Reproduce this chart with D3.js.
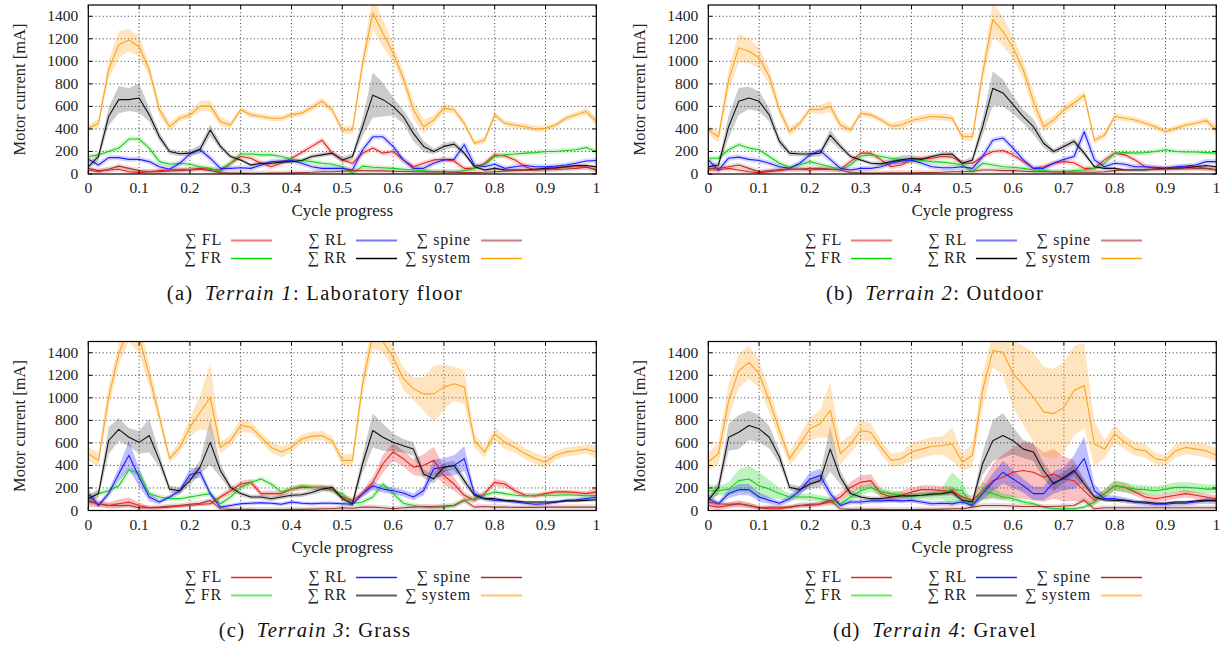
<!DOCTYPE html>
<html>
<head>
<meta charset="utf-8">
<script src="https://cdn.jsdelivr.net/npm/d3@7"></script>
<style>
  body { margin: 0; background: #fff; }
  svg { display: block; font-family: "Liberation Serif", "DejaVu Serif", serif; }
</style>
</head>
<body>
<svg id="chart" width="1227" height="645"></svg>
<script>
// cycle progress sample points
const cycle = [0, 0.02, 0.04, 0.06, 0.08, 0.1, 0.12, 0.14, 0.16, 0.18,
               0.2, 0.22, 0.24, 0.26, 0.28, 0.3, 0.32, 0.34, 0.36, 0.38,
               0.4, 0.42, 0.44, 0.46, 0.48, 0.5, 0.52, 0.54, 0.56, 0.58,
               0.6, 0.62, 0.64, 0.66, 0.68, 0.7, 0.72, 0.74, 0.76, 0.78,
               0.8, 0.82, 0.84, 0.86, 0.88, 0.9, 0.92, 0.94, 0.96, 0.98, 1];
const xTicks = [0, 0.1, 0.2, 0.3, 0.4, 0.5, 0.6, 0.7, 0.8, 0.9, 1];
const xTickLabels = ["0", "0.1", "0.2", "0.3", "0.4", "0.5", "0.6", "0.7", "0.8", "0.9", "1"];
const yTicks = [0, 200, 400, 600, 800, 1000, 1200, 1400];

// (a) Terrain 1: Laboratory floor
const a_FL  = [50,30,35,42,20,12,20,30,35,42,42,50,42,35,95,155,140,95,65,95,140,190,245,300,185,125,95,185,230,185,200,125,65,95,125,130,115,50,50,95,170,160,125,65,35,42,50,60,65,65,35];
const a_FR  = [155,170,200,230,310,310,230,110,86,95,86,65,50,20,95,178,178,170,170,155,130,120,110,95,86,65,6,70,60,56,50,42,35,30,20,20,20,30,50,80,155,170,178,185,190,200,200,208,215,235,200];
const a_RL  = [130,80,145,145,130,130,110,65,42,95,178,215,140,50,50,56,50,80,110,115,120,95,65,50,50,50,35,215,330,330,245,125,50,50,95,125,130,260,80,65,86,50,65,75,65,65,70,80,95,115,120];
const a_RR  = [65,155,510,660,660,675,525,330,200,180,185,220,390,245,155,125,80,95,95,105,110,120,155,170,185,125,155,420,700,660,600,510,360,245,200,245,265,185,65,35,50,35,35,35,42,50,56,65,75,75,65];
const a_SP  = [35,20,42,70,50,30,20,20,27,30,35,42,30,12,8,8,6,6,8,8,10,12,15,20,20,25,30,30,28,28,25,22,20,18,20,18,15,12,12,15,20,25,30,32,35,38,40,45,50,60,40];
const a_sys = [406,450,925,1150,1190,1130,925,570,420,495,525,600,605,465,435,570,525,510,495,495,525,540,590,645,570,390,390,985,1430,1250,1075,850,570,420,480,585,570,450,273,300,525,450,435,420,400,405,435,495,525,555,465];
const a_RR_sd  = [20,40,80,120,100,130,60,40,25,20,25,40,50,30,20,15,15,15,15,15,15,15,20,20,20,25,30,80,200,150,80,60,70,50,25,30,30,25,15,12,12,10,10,10,10,10,10,10,10,12,12];
const a_sys_sd = [30,40,80,120,100,90,60,50,40,30,30,45,50,40,30,25,25,25,25,25,25,25,30,35,30,30,40,80,150,120,80,60,80,60,40,40,30,30,25,30,30,25,25,25,25,25,25,25,25,30,40];

// (b) Terrain 2: Outdoor
const b_FL  = [35,35,50,35,20,12,20,30,42,42,35,42,40,42,110,185,185,125,65,80,125,140,140,155,150,95,95,155,200,208,170,110,50,65,95,110,100,50,50,125,185,170,125,65,50,50,55,65,65,50,35];
const b_FR  = [140,140,215,260,230,215,155,95,60,80,110,86,65,35,80,160,170,155,140,125,110,120,110,105,95,80,20,95,80,65,60,50,35,30,20,20,30,35,50,95,185,190,185,190,200,215,200,195,195,190,185];
const b_RL  = [125,35,140,150,130,120,95,65,50,95,170,208,130,50,35,50,50,65,95,115,125,95,65,56,56,65,50,155,300,320,230,125,50,50,95,130,155,375,125,65,95,86,65,65,60,50,65,70,80,110,110];
const b_RR  = [65,80,420,645,675,645,525,290,185,178,178,185,345,245,155,125,95,90,110,125,140,130,155,175,178,95,125,420,760,720,615,510,420,273,200,245,290,185,65,50,50,35,35,35,42,50,50,56,65,75,65];
const b_SP  = [50,50,65,80,50,20,30,40,45,45,50,50,45,35,12,10,8,8,10,10,10,12,12,15,20,20,25,35,35,30,30,25,20,20,18,18,15,15,15,20,30,35,40,40,42,45,45,45,48,50,40];
const b_sys = [390,330,835,1120,1090,1030,865,570,375,450,575,570,600,435,390,540,525,480,425,435,475,495,510,505,495,330,330,895,1370,1265,1120,925,645,420,480,570,630,700,300,345,510,495,480,450,420,375,405,435,450,475,390];
const b_RR_sd  = [20,30,100,120,100,90,60,40,25,20,25,30,50,30,20,15,15,20,25,40,30,20,20,20,20,20,30,80,150,120,80,60,70,40,25,25,30,30,15,12,12,10,10,10,10,10,10,10,10,12,12];
const b_sys_sd = [40,50,100,130,110,90,70,50,40,30,30,40,50,40,30,25,25,25,30,40,30,30,30,30,30,30,40,80,150,130,100,80,90,50,40,40,40,40,30,30,30,25,25,25,25,25,25,25,25,30,40];

// (c) Terrain 3: Grass
const c_FL  = [90,60,45,60,75,45,25,25,30,40,45,55,60,120,175,235,250,150,150,150,190,205,205,205,185,120,90,150,250,415,520,460,385,400,445,310,235,135,90,150,250,235,175,135,130,150,165,165,160,150,165];
const c_FR  = [105,150,175,220,360,330,150,120,105,105,120,135,150,60,120,205,250,280,235,165,190,220,205,205,175,150,60,75,120,235,150,65,45,30,25,30,45,90,105,135,165,150,135,130,135,135,135,140,135,130,135];
const c_RL  = [150,45,150,325,490,295,120,75,120,175,320,340,150,30,45,60,65,68,65,55,75,65,60,65,65,60,55,150,220,190,175,155,120,175,370,385,400,460,150,105,90,85,75,65,55,60,75,90,95,105,120];
const c_RR  = [105,150,620,720,650,605,665,445,190,175,265,385,605,355,205,150,120,120,105,120,135,140,160,190,205,105,60,415,710,650,605,575,545,325,280,385,400,265,135,105,105,90,85,75,75,75,75,85,85,90,95];
const c_SP  = [75,60,45,45,45,25,25,30,40,45,55,65,90,15,10,10,10,8,8,8,10,10,12,15,15,25,20,30,30,25,15,25,30,35,35,40,45,90,30,35,30,30,28,28,28,30,30,30,30,30,30];
const c_sys = [505,445,1005,1390,1620,1540,1200,830,460,560,740,870,1005,560,620,755,740,650,560,520,560,635,660,665,620,445,445,1125,1560,1500,1360,1170,1080,1035,1035,1095,1125,1095,620,520,680,605,560,505,460,430,490,520,530,545,520];
const c_FL_sd  = [60,30,25,40,40,25,15,15,15,15,15,15,20,25,30,30,30,25,25,25,25,25,25,25,25,25,25,30,50,80,80,70,70,100,120,80,60,30,25,30,30,30,25,20,20,20,20,20,20,20,40];
const c_RL_sd  = [40,20,30,60,130,80,40,20,20,30,50,50,30,15,15,15,15,15,15,15,15,15,15,15,15,15,15,30,40,30,30,30,30,40,80,80,90,110,40,20,20,15,15,15,15,15,15,15,15,15,20];
const c_RR_sd  = [30,40,120,100,80,100,150,60,30,30,40,60,200,60,30,20,20,20,20,20,20,20,20,25,25,25,30,80,150,120,80,60,60,40,40,40,40,40,20,15,15,15,15,12,12,12,12,12,12,12,15];
const c_sys_sd = [60,60,100,100,120,150,100,60,40,50,80,150,300,50,50,60,50,40,50,50,40,40,40,40,40,50,60,100,120,100,100,100,100,150,250,200,150,150,60,50,60,60,50,50,50,50,40,40,40,40,60];

// (d) Terrain 4: Gravel
const d_FL  = [45,30,45,60,45,25,15,15,30,45,45,55,75,120,205,250,265,150,120,135,165,185,185,175,175,120,90,175,265,295,340,355,340,295,325,280,265,175,90,150,220,205,165,120,105,120,135,150,135,120,105];
const d_FR  = [175,175,190,265,280,220,190,150,120,120,120,105,90,60,120,175,205,165,150,135,125,135,135,150,190,175,45,175,150,120,105,75,60,30,15,15,15,30,75,150,220,205,190,185,175,190,205,205,200,190,190];
const d_RL  = [105,60,150,185,185,120,90,65,105,175,280,310,150,45,75,75,85,85,90,85,90,75,60,65,60,75,45,150,250,340,280,220,150,150,250,280,340,460,175,105,105,90,75,65,55,55,65,65,75,85,85];
const d_RR  = [90,205,650,695,755,725,650,475,205,185,235,265,545,295,150,120,105,105,120,130,130,135,145,150,165,90,75,415,620,665,620,545,520,355,235,295,355,235,120,95,90,90,75,75,65,65,75,75,85,90,90];
const d_SP  = [75,60,55,60,45,25,30,30,30,45,55,60,90,15,10,10,10,10,8,8,8,10,10,12,15,15,30,45,45,45,40,35,35,35,35,40,45,90,15,25,25,25,25,25,25,25,25,25,25,25,25];
const d_sys = [430,505,975,1240,1315,1215,975,710,460,590,725,770,890,505,590,710,695,560,445,460,520,545,570,575,590,430,490,1065,1420,1405,1215,1110,1005,875,860,915,1065,1110,590,545,680,605,545,530,460,445,530,560,545,530,490];
const d_FL_sd  = [30,25,25,30,25,15,10,10,15,20,20,20,30,40,50,60,60,40,40,40,40,40,40,40,40,30,40,80,150,200,220,250,250,220,220,200,180,100,40,40,40,40,35,30,30,30,30,35,30,30,30];
const d_FR_sd  = [60,40,60,100,120,120,80,50,30,30,30,30,30,20,40,40,40,30,30,30,30,30,40,50,150,80,30,80,50,30,30,20,20,15,10,10,10,15,30,40,50,45,40,40,40,40,45,45,45,40,40];
const d_RL_sd  = [40,20,40,50,50,40,30,20,30,40,60,60,40,20,20,20,20,20,20,20,20,20,20,20,20,20,20,50,80,100,80,60,60,60,100,100,150,200,60,30,30,25,20,20,20,20,20,20,20,25,30];
const d_RR_sd  = [30,60,120,150,130,120,100,60,30,30,40,60,200,60,30,20,20,20,20,20,20,20,20,20,25,25,30,100,180,200,120,80,80,70,60,50,50,40,20,15,15,15,15,15,12,12,12,12,12,15,15];
const d_sys_sd = [80,100,150,150,150,120,100,80,60,80,100,120,250,100,80,100,80,60,60,60,80,80,80,80,150,80,100,150,150,200,300,350,400,400,400,400,400,380,200,80,80,60,60,60,50,50,60,60,60,60,60];

const seriesKeys = ["FL", "FR", "RL", "RR", "spine", "system"];
const lineColor = { FL: "#e8211d", FR: "#14cf14", RL: "#1c1cff", RR: "#111111", spine: "#a33636", system: "#ffa31a" };

// legend samples look different in the top and bottom rows of the figure
const legendTop = {
    FL: { c: "#f27575", w: 2 }, FR: { c: "#00dd00", w: 1.3 }, RL: { c: "#7878ff", w: 2 },
    RR: { c: "#000000", w: 1.3 }, spine: { c: "#c88484", w: 2 }, system: { c: "#ffa500", w: 1.3 }
};
const legendBottom = {
    FL: { c: "#ee2020", w: 1.3 }, FR: { c: "#66ee66", w: 2 }, RL: { c: "#2020ff", w: 1.3 },
    RR: { c: "#606060", w: 2 }, spine: { c: "#a33030", w: 1.3 }, system: { c: "#ffc468", w: 2 }
};

const panels = [
    { left: 88.3, top: 5, letter: "(a)", terrain: "Terrain 1", name: "Laboratory floor", legend: legendTop,
      data: { FL: a_FL, FR: a_FR, RL: a_RL, RR: a_RR, spine: a_SP, system: a_sys },
      sd: { RR: a_RR_sd, system: a_sys_sd } },
    { left: 708.3, top: 5, letter: "(b)", terrain: "Terrain 2", name: "Outdoor", legend: legendTop,
      data: { FL: b_FL, FR: b_FR, RL: b_RL, RR: b_RR, spine: b_SP, system: b_sys },
      sd: { RR: b_RR_sd, system: b_sys_sd } },
    { left: 88.3, top: 341.5, letter: "(c)", terrain: "Terrain 3", name: "Grass", legend: legendBottom,
      data: { FL: c_FL, FR: c_FR, RL: c_RL, RR: c_RR, spine: c_SP, system: c_sys },
      sd: { FL: c_FL_sd, RL: c_RL_sd, RR: c_RR_sd, system: c_sys_sd } },
    { left: 708.3, top: 341.5, letter: "(d)", terrain: "Terrain 4", name: "Gravel", legend: legendBottom,
      data: { FL: d_FL, FR: d_FR, RL: d_RL, RR: d_RR, spine: d_SP, system: d_sys },
      sd: { FL: d_FL_sd, FR: d_FR_sd, RL: d_RL_sd, RR: d_RR_sd, system: d_sys_sd } }
];

const W = 508, H = 169;
const svg = d3.select("#chart");

panels.forEach((p, pi) => {
    const g = svg.append("g").attr("transform", `translate(${p.left},${p.top})`);
    const x = d3.scaleLinear().domain([0, 1]).range([0, W]);
    const y = d3.scaleLinear().domain([0, 1500]).range([H, 0]);

    // clip to the frame
    const clipId = "clip" + pi;
    g.append("clipPath").attr("id", clipId)
        .append("rect").attr("width", W).attr("height", H);

    // dotted grid
    const grid = g.append("g").attr("stroke", "#000").attr("stroke-width", 0.8)
        .attr("stroke-dasharray", "1,2.6");
    xTicks.slice(1, -1).forEach(t => {
        grid.append("line").attr("x1", x(t)).attr("x2", x(t)).attr("y1", 0).attr("y2", H);
    });
    yTicks.slice(1).forEach(t => {
        grid.append("line").attr("x1", 0).attr("x2", W).attr("y1", y(t)).attr("y2", y(t));
    });

    const plot = g.append("g").attr("clip-path", `url(#${clipId})`);

    // bands (mean +/- spread)
    seriesKeys.forEach(k => {
        const m = p.data[k];
        const s = p.sd[k];
        if (s) {
            const area = d3.area()
                .x((d, i) => x(cycle[i]))
                .y0((d, i) => y(Math.max(0, m[i] - s[i])))
                .y1((d, i) => y(m[i] + s[i]));
            plot.append("path").datum(m)
                .attr("d", area)
                .attr("fill", lineColor[k])
                .attr("fill-opacity", k === "RR" ? 0.22 : 0.28);
        } else {
            const halo = d3.line().x((d, i) => x(cycle[i])).y(d => y(d));
            plot.append("path").datum(m)
                .attr("d", halo)
                .attr("fill", "none")
                .attr("stroke", lineColor[k])
                .attr("stroke-opacity", 0.18)
                .attr("stroke-width", 5)
                .attr("stroke-linejoin", "round");
        }
    });

    // mean lines
    const line = d3.line().x((d, i) => x(cycle[i])).y(d => y(d));
    seriesKeys.forEach(k => {
        plot.append("path").datum(p.data[k])
            .attr("d", line)
            .attr("fill", "none")
            .attr("stroke", lineColor[k])
            .attr("stroke-width", 1.1)
            .attr("stroke-linejoin", "round");
    });

    // frame
    g.append("rect").attr("width", W).attr("height", H)
        .attr("fill", "none").attr("stroke", "#000").attr("stroke-width", 1.2);

    // ticks (inward, mirrored)
    const tk = g.append("g").attr("stroke", "#000").attr("stroke-width", 1);
    xTicks.forEach(t => {
        tk.append("line").attr("x1", x(t)).attr("x2", x(t)).attr("y1", H).attr("y2", H - 4);
        tk.append("line").attr("x1", x(t)).attr("x2", x(t)).attr("y1", 0).attr("y2", 4);
    });
    yTicks.forEach(t => {
        tk.append("line").attr("x1", 0).attr("x2", 4).attr("y1", y(t)).attr("y2", y(t));
        tk.append("line").attr("x1", W).attr("x2", W - 4).attr("y1", y(t)).attr("y2", y(t));
    });

    // tick labels
    xTicks.forEach((t, i) => {
        g.append("text").attr("x", x(t)).attr("y", H + 19)
            .attr("text-anchor", "middle").attr("font-size", 15.5).attr("fill", "#222")
            .text(xTickLabels[i]);
    });
    yTicks.forEach(t => {
        g.append("text").attr("x", -10).attr("y", y(t) + 5)
            .attr("text-anchor", "end").attr("font-size", 15.5).attr("fill", "#222")
            .text(t);
    });

    // axis titles
    g.append("text").attr("x", W / 2).attr("y", H + 42)
        .attr("text-anchor", "middle").attr("font-size", 17).attr("fill", "#222")
        .text("Cycle progress");
    g.append("text")
        .attr("transform", `translate(-63,${H / 2}) rotate(-90)`)
        .attr("text-anchor", "middle").attr("font-size", 16.5).attr("fill", "#222")
        .text("Motor current [mA]");

    // legend
    const lg = g.append("g").attr("fill", "#222");
    const cols = [
        { keys: ["FL", "FR"], end: 133.7, l0: 142.7, l1: 183.7 },
        { keys: ["RL", "RR"], end: 258.7, l0: 267.7, l1: 308.7 },
        { keys: ["spine", "system"], end: 382.7, l0: 392.7, l1: 433.7 }
    ];
    const rowsY = [H + 66, H + 84];
    cols.forEach(c => {
        c.keys.forEach((k, r) => {
            const ty = rowsY[r];
            const lbl = lg.append("text").attr("x", c.end).attr("y", ty + 5)
                .attr("font-size", 16).attr("letter-spacing", 0.8)
                .attr("text-anchor", "end").text(k);
            const wTxt = lbl.node().getComputedTextLength();
            lg.append("text").attr("x", c.end - wTxt - 5).attr("y", ty + 5)
                .attr("font-size", 16).attr("text-anchor", "end").text("\u2211");
            const st = p.legend[k];
            const ly = Math.round(p.top + ty) - p.top + 0.5;
            lg.append("line").attr("x1", c.l0).attr("x2", c.l1).attr("y1", ly).attr("y2", ly)
                .attr("stroke", st.c).attr("stroke-width", st.w);
        });
    });

    // caption
    const cap = g.append("text").attr("x", 226.7).attr("y", H + 126)
        .attr("text-anchor", "middle").attr("font-size", 20.5).attr("fill", "#111")
        .attr("letter-spacing", 1.3);
    cap.append("tspan").text(p.letter + "\u2002");
    cap.append("tspan").attr("font-style", "italic").text(p.terrain);
    cap.append("tspan").text(": " + p.name);
});
</script>
</body>
</html>
